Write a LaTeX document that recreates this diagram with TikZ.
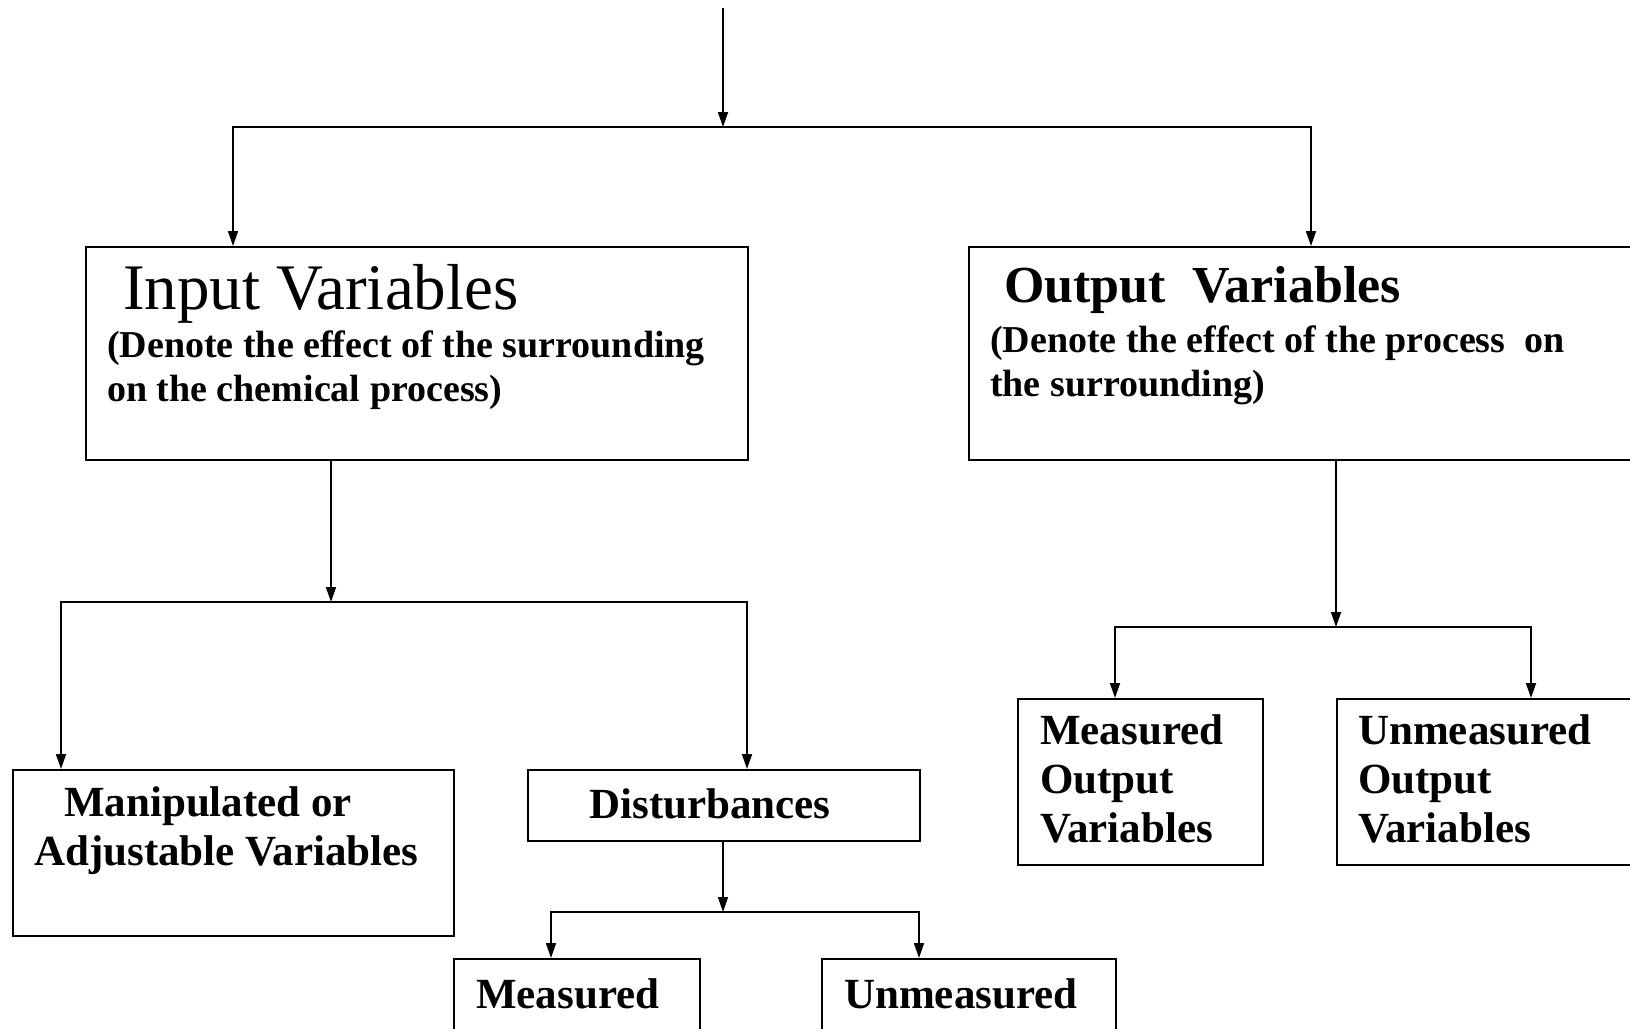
\documentclass[tikz,border=0pt]{standalone}
\usepackage{fontspec}
\setmainfont{Liberation Serif}
\usetikzlibrary{arrows.meta}
\tikzset{
  box/.style={draw, line width=2pt, anchor=north west, inner sep=0pt},
  head/.style={anchor=base west, inner sep=0pt},
  note/.style={anchor=base west, inner sep=0pt, align=left,
               font=\fontsize{38}{44}\selectfont\bfseries},
  lbl/.style={anchor=base west, inner sep=0pt, align=left,
              font=\fontsize{43}{49}\selectfont\bfseries},
  arrow/.style={-{Triangle[length=15pt,width=10pt]}, line width=1.7pt},
}

\begin{document}
\begin{tikzpicture}[x=1pt, y=-1pt]
  \useasboundingbox (0,0) rectangle (1630,1028);

  % boxes
  \node[box, minimum width=662, minimum height=213] (inp) at (85,246) {};
  \node[box, minimum width=664, minimum height=213] (out) at (968,246) {};
  \node[box, minimum width=441, minimum height=166] (man) at (12,769) {};
  \node[box, minimum width=392, minimum height=71] (dist) at (527,769) {};
  \node[box, minimum width=246, minimum height=90] (meas) at (453,958) {};
  \node[box, minimum width=294, minimum height=90] (unmeas) at (821,958) {};
  \node[box, minimum width=245, minimum height=166] (mo) at (1017,698) {};
  \node[box, minimum width=296, minimum height=166] (umo) at (1336,698) {};

  % texts (multi-line ones sit on the baseline of their last line)
  \node[head, font=\fontsize{65}{70}\selectfont] (inp-head) at (123,309) {Input Variables};
  \node[note] (inp-note) at (107,401) {(Denote the effect of the surrounding\\on the chemical process)};
  \node[head, font=\fontsize{52}{60}\selectfont\bfseries] (out-head) at (1004,302) {Output\ \ Variables};
  \node[note] (out-note) at (990,396) {(Denote the effect of the process\ \ on\\the surrounding)};
  \node[lbl] (man-txt) at (34,865) {\hspace*{30pt}Manipulated or\\Adjustable Variables};
  \node[lbl, anchor=base] (dist-txt) at (710,818) {Disturbances};
  \node[lbl] (meas-txt) at (476,1008) {Measured};
  \node[lbl] (unmeas-txt) at (844,1008) {Unmeasured};
  \node[lbl] (mo-txt) at (1040,842) {Measured\\Output\\Variables};
  \node[lbl] (umo-txt) at (1358,842) {Unmeasured\\Output\\Variables};

  % junctions and drop points
  \coordinate (src) at (723,8);
  \coordinate (j1) at (723,127);
  \coordinate (inp-in) at (233,246);
  \coordinate (out-in) at (1311,246);
  \coordinate (j2) at (331,602);
  \coordinate (man-in) at (61,769);
  \coordinate (dist-in) at (747,769);
  \coordinate (j3) at (723,912);
  \coordinate (meas-in) at (551,958);
  \coordinate (unmeas-in) at (919,958);
  \coordinate (j4) at (1336,627);
  \coordinate (mo-in) at (1115,698);
  \coordinate (umo-in) at (1531,698);

  % connectors
  \draw[arrow] (src) -- (j1);
  \draw[arrow] (j1) -| (inp-in);
  \draw[arrow] (j1) -| (out-in);
  \draw[arrow] (inp.south -| j2) -- (j2);
  \draw[arrow] (j2) -| (man-in);
  \draw[arrow] (j2) -| (dist-in);
  \draw[arrow] (dist.south -| j3) -- (j3);
  \draw[arrow] (j3) -| (meas-in);
  \draw[arrow] (j3) -| (unmeas-in);
  \draw[arrow] (out.south -| j4) -- (j4);
  \draw[arrow] (j4) -| (mo-in);
  \draw[arrow] (j4) -| (umo-in);
\end{tikzpicture}
\end{document}
